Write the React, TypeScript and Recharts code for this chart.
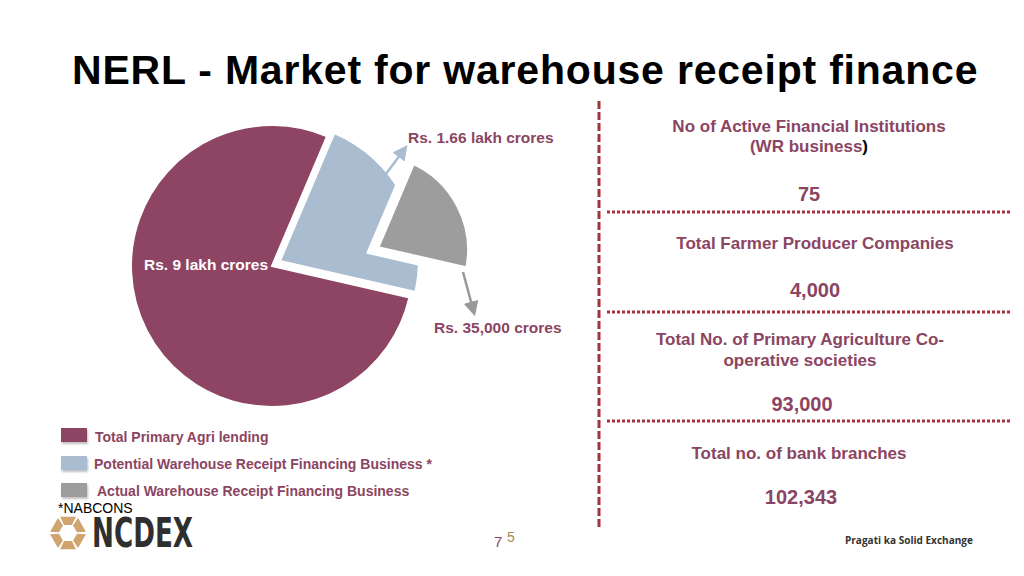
import React from "react";
import { PieChart, Pie, Cell } from "recharts";

// pie shares as drawn on the slide (not to scale with the amounts)
const sliceNames = ["Total Primary Agri lending", "Potential Warehouse Receipt Financing Business *"];
const sliceShares = [77.8, 22.2];
const actualName = "Actual Warehouse Receipt Financing Business";

const legendNames = [
  "Total Primary Agri lending",
  "Potential Warehouse Receipt Financing Business *",
  "Actual Warehouse Receipt Financing Business",
];
const legendColors = ["#8E4564", "#AABDD0", "#9D9D9D"];

const amountLabels = ["Rs. 9 lakh crores", "Rs. 1.66 lakh crores", "Rs. 35,000 crores"];

const statTitles = [
  ["No of Active Financial Institutions", "(WR business)"],
  ["Total Farmer Producer Companies"],
  ["Total No. of Primary Agriculture Co-", "operative societies"],
  ["Total no. of bank branches"],
];
const statValues = ["75", "4,000", "93,000", "102,343"];

const MAROON = "#8B4562";
const FONT = "'Liberation Sans', Arial, Helvetica, sans-serif";

const pieData = sliceNames.map((name, i) => ({ name, share: sliceShares[i] }));

type TProps = {
  x: number;
  y: number;
  size: number;
  color?: string;
  weight?: number;
  center?: boolean;
  lh?: number;
  children: React.ReactNode;
};

const T: React.FC<TProps> = ({ x, y, size, color = MAROON, weight = 700, center, lh = 1.2, children }) => (
  <div
    style={{
      position: "absolute",
      left: center ? x - 250 : x,
      width: center ? 500 : undefined,
      top: y - (size * lh) / 2,
      lineHeight: `${size * lh}px`,
      fontSize: size,
      fontWeight: weight,
      color,
      fontFamily: FONT,
      textAlign: center ? "center" : "left",
      whiteSpace: "nowrap",
    }}
  >
    {children}
  </div>
);

const statTitleY = [
  [127, 147],
  [244],
  [340, 361],
  [454],
];
const statValueY = [194, 290, 404, 497];

export default function App() {
  const hexSegs = Array.from({ length: 6 }, (_, i) => {
    const a0 = ((i * 60 + 4) * Math.PI) / 180;
    const a1 = ((i * 60 + 56) * Math.PI) / 180;
    const R = 18;
    const r = 9;
    const p = (rad: number, a: number) => `${68 + rad * Math.cos(a)},${533 + rad * Math.sin(a)}`;
    return [p(R, a0), p(R, a1), p(r, a1), p(r, a0)].join(" ");
  });

  return (
    <div
      style={{
        position: "absolute",
        left: 0,
        top: 0,
        width: 1024,
        height: 576,
        background: "#fff",
        overflow: "hidden",
        fontFamily: FONT,
      }}
    >
      <div
        style={{
          position: "absolute",
          left: 72,
          top: 46,
          fontSize: 41,
          letterSpacing: 0.8,
          lineHeight: "48px",
          fontWeight: 700,
          color: "#000",
          whiteSpace: "nowrap",
        }}
      >
        NERL - Market for warehouse receipt finance
      </div>

      <div style={{ position: "absolute", left: 0, top: 0 }}>
        <PieChart width={1024} height={576} margin={{ top: 0, right: 0, bottom: 0, left: 0 }}>
          <Pie
            data={pieData}
            dataKey="share"
            nameKey="name"
            cx={272}
            cy={266}
            outerRadius={141}
            startAngle={67}
            endAngle={427}
            stroke="#fff"
            strokeWidth={2}
            isAnimationActive={false}
          >
            <Cell fill={legendColors[0]} />
            <Cell fill="none" stroke="none" />
          </Pie>
          <Pie
            data={pieData}
            dataKey="share"
            nameKey="name"
            cx={280}
            cy={261}
            outerRadius={139}
            startAngle={67}
            endAngle={427}
            stroke="#fff"
            strokeWidth={2}
            isAnimationActive={false}
          >
            <Cell fill="none" stroke="none" />
            <Cell fill={legendColors[1]} />
          </Pie>
          <Pie
            data={pieData.map((d, i) => ({ ...d, name: i === 1 ? actualName : d.name }))}
            dataKey="share"
            nameKey="name"
            cx={373}
            cy={250}
            outerRadius={99}
            startAngle={67}
            endAngle={427}
            stroke="#fff"
            strokeWidth={10}
            strokeLinejoin="miter"
            isAnimationActive={false}
          >
            <Cell fill="none" stroke="none" />
            <Cell fill={legendColors[2]} />
          </Pie>
        </PieChart>
      </div>

      {/* leader arrows, divider lines, logo */}
      <svg width={1024} height={576} style={{ position: "absolute", left: 0, top: 0 }}>
        <defs>
          <marker id="ab" markerWidth="6" markerHeight="6" refX="3" refY="3" orient="auto">
            <path d="M0,0 L6,3 L0,6 z" fill={legendColors[1]} />
          </marker>
          <marker id="ag" markerWidth="6" markerHeight="6" refX="3" refY="3" orient="auto">
            <path d="M0,0 L6,3 L0,6 z" fill="#999" />
          </marker>
        </defs>
        <line x1={383} y1={178} x2={403} y2={151} stroke={legendColors[1]} strokeWidth={2.5} markerEnd="url(#ab)" />
        <line x1={463} y1={272} x2={473} y2={309} stroke="#999" strokeWidth={2.5} markerEnd="url(#ag)" />

        <line x1={599} y1={101} x2={599} y2={528} stroke="#A3323E" strokeWidth={3} strokeDasharray="8 3" />
        {[212, 312, 421].map((y) => (
          <line key={y} x1={607} y1={y} x2={1012} y2={y} stroke="#A3323E" strokeWidth={3} strokeDasharray="3 2" />
        ))}

        {hexSegs.map((pts, i) => (
          <polygon key={i} points={pts} fill="#CFA46F" />
        ))}
        <text
          x={92}
          y={547}
          fontFamily="'DejaVu Sans', sans-serif"
          fontWeight={700}
          fontSize={41}
          fill="#2f2f2f"
          textLength={101}
          lengthAdjust="spacingAndGlyphs"
        >
          NCDEX
        </text>
        <text
          x={845}
          y={544}
          fontFamily="'Open Sans', sans-serif"
          fontWeight={700}
          fontSize={11}
          fill="#333"
          textLength={128}
          lengthAdjust="spacingAndGlyphs"
        >
          Pragati ka Solid Exchange
        </text>
        <text x={494} y={547} fontFamily={FONT} fontSize={15} fill="#8B4562">
          7
        </text>
        <text x={507} y={542} fontFamily={FONT} fontSize={14} fill="#9C8C5A">
          5
        </text>
      </svg>

      {/* amount labels */}
      <T x={144} y={265} size={15.5} color="#fff">
        {amountLabels[0]}
      </T>
      <T x={408} y={138} size={15.5}>
        {amountLabels[1]}
      </T>
      <T x={434} y={328} size={15.5}>
        {amountLabels[2]}
      </T>

      {/* legend */}
      {legendNames.map((n, i) => (
        <React.Fragment key={n}>
          <div
            style={{
              position: "absolute",
              left: 61,
              top: [428, 456, 483][i],
              width: 26,
              height: 14,
              background: legendColors[i],
              boxShadow: "1px 2px 2px rgba(0,0,0,0.25)",
            }}
          />
          <T x={[95, 94, 97][i]} y={[437, 464, 491][i]} size={14}>
            {n}
          </T>
        </React.Fragment>
      ))}
      <T x={58} y={508} size={14} weight={400} color="#000" lh={1}>
        *NABCONS
      </T>

      {/* right hand figures */}
      {statTitles.map((lines, i) => (
        <React.Fragment key={i}>
          {lines.map((ln, j) => (
            <T key={ln} x={[809, 815, 800, 799][i]} y={statTitleY[i][j]} size={17} center>
              {i === 0 && j === 1 ? (
                <>
                  (WR business<span style={{ color: "#000" }}>)</span>
                </>
              ) : (
                ln
              )}
            </T>
          ))}
          <T x={[809, 815, 802, 801][i]} y={statValueY[i]} size={20} center>
            {statValues[i]}
          </T>
        </React.Fragment>
      ))}
    </div>
  );
}
